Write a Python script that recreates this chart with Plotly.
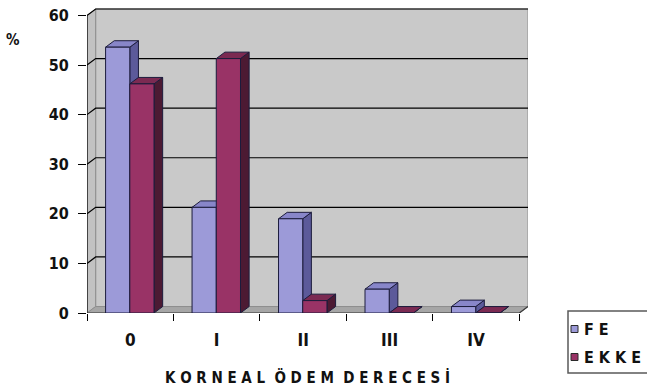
import plotly.graph_objects as go

# ---- data -------------------------------------------------------------
grades = ["0", "I", "II", "III", "IV"]
fe_pct = [53.6, 21.3, 19.0, 4.8, 1.3]
ekke_pct = [46.2, 51.3, 2.5, 0.0, 0.0]
y_ticks = [0, 10, 20, 30, 40, 50, 60]
series_names = ["FE", "EKKE"]

# ---- geometry / style -------------------------------------------------
W, H = 647, 387
ML, MR, MT, MB = 87, 119, 8, 74
PW, PH = W - ML - MR, H - MT - MB

DX, DY = 0.1, 1.3          # depth of the pseudo-3D extrusion (axis units)
YMAX = 60
Y_TOP = 61.5
BAR_W = 0.28
EDGE = "#1c1c3c"
FONT = "Liberation Sans Narrow, DejaVu Sans Condensed, Liberation Sans, Arial, sans-serif"

styles = {
    "FE": dict(front="#9c9ad8", top="#8886c9", side="#5c5a9a", offset=-0.285),
    "EKKE": dict(front="#993366", top="#7b2a52", side="#4c1a33", offset=-0.005),
}
values = {"FE": fe_pct, "EKKE": ekke_pct}


def spaced(s):
    return " ".join(s)


def px_x(px):
    return (px - ML) / PW


def px_y(py):
    return (MT + PH - py) / PH


def poly(points, fill, line_color, width=1.0, close=True):
    path = "M" + " L".join(f"{x},{y}" for x, y in points) + (" Z" if close else "")
    return dict(type="path", path=path, xref="x", yref="y",
                fillcolor=fill if close else None,
                line=dict(color=line_color, width=width), layer="below")


shapes = []
x_lo, x_hi = -0.5, len(grades) - 0.5

# walls and floor
shapes.append(poly([(x_lo + DX, DY), (x_hi + DX, DY), (x_hi + DX, YMAX + DY), (x_lo + DX, YMAX + DY)],
                   "#c9c9c9", "#8e8e8e"))
shapes.append(poly([(x_lo, 0), (x_lo + DX, DY), (x_lo + DX, YMAX + DY), (x_lo, YMAX)],
                   "#c2c2c2", "#8e8e8e"))
shapes.append(poly([(x_lo, 0), (x_hi, 0), (x_hi + DX, DY), (x_lo + DX, DY)],
                   "#a6a6a6", "#8e8e8e"))

# gridlines on the side and back walls
for v in y_ticks[1:]:
    shapes.append(poly([(x_lo, v), (x_lo + DX, v + DY), (x_hi + DX, v + DY)],
                       None, "#000000", 1.2, close=False))

# front edges of the axes
shapes.append(poly([(x_lo, 0), (x_lo, YMAX)], None, "#000000", 1.2, close=False))
shapes.append(poly([(x_lo, 0), (x_hi, 0), (x_hi + DX, DY)], None, "#3a3a3a", 1.2, close=False))

# top and side faces of every column
for name in series_names:
    st = styles[name]
    for i, v in enumerate(values[name]):
        x0 = i + st["offset"]
        x1 = x0 + BAR_W
        shapes.append(poly([(x1, 0), (x1 + DX, DY), (x1 + DX, v + DY), (x1, v)], st["side"], EDGE))
        shapes.append(poly([(x0, v), (x1, v), (x1 + DX, v + DY), (x0 + DX, v + DY)], st["top"], EDGE))

fig = go.Figure()
for name in series_names:
    st = styles[name]
    fig.add_trace(go.Bar(
        x=grades, y=values[name], name=name,
        offset=st["offset"], width=BAR_W,
        marker=dict(color=st["front"], line=dict(color=EDGE, width=1)),
        showlegend=False,
    ))

# legend box drawn by hand
lx0, lx1, ly0, ly1 = 568, 660, 311, 373
shapes.append(dict(type="rect", xref="paper", yref="paper",
                   x0=px_x(lx0), x1=px_x(lx1), y0=px_y(ly1), y1=px_y(ly0),
                   line=dict(color="#5a5a5a", width=1.5), fillcolor="white", layer="above"))
annotations = []
for k, name in enumerate(series_names):
    cy = 329 + k * 28
    shapes.append(dict(type="rect", xref="paper", yref="paper",
                       x0=px_x(571), x1=px_x(578), y0=px_y(cy + 3.5), y1=px_y(cy - 3.5),
                       line=dict(color="#2a2a2a", width=1), fillcolor=styles[name]["front"],
                       layer="above"))
    annotations.append(dict(x=px_x(582), y=px_y(cy), xref="paper", yref="paper",
                            text=spaced(name), showarrow=False, xanchor="left", yanchor="middle",
                            font=dict(family=FONT, size=16, color="#111111", weight="bold")))

annotations.append(dict(x=px_x(13), y=px_y(40), xref="paper", yref="paper", text="%",
                        showarrow=False, xanchor="center", yanchor="middle",
                        font=dict(family=FONT, size=15, color="#111111", weight="bold")))

fig.update_layout(
    width=W, height=H,
    margin=dict(l=ML, r=MR, t=MT, b=MB, pad=0),
    paper_bgcolor="white", plot_bgcolor="rgba(0,0,0,0)",
    barmode="overlay",
    shapes=shapes, annotations=annotations,
    font=dict(family=FONT, color="#111111"),
    xaxis=dict(type="category", range=[x_lo, x_hi + DX], tickson="boundaries",
               ticks="outside", ticklen=7, tickcolor="#000000", tickwidth=1.2,
               showgrid=False, showline=False, zeroline=False, automargin=False,
               tickfont=dict(family=FONT, size=17, weight="bold", color="#111111"),
               ticklabelstandoff=15,
               title=dict(text=spaced("KORNEAL ÖDEM DERECESİ").replace("   ", "  "),
                          font=dict(family=FONT, size=15, weight="bold", color="#111111"),
                          standoff=23)),
    yaxis=dict(range=[0, Y_TOP], tickvals=y_ticks, ticks="outside", ticklen=8,
               tickcolor="#000000", tickwidth=1.2, automargin=False,
               showgrid=False, showline=False, zeroline=False,
               tickfont=dict(family=FONT, size=16, weight="bold", color="#111111"),
               ticklabelstandoff=6),
)

fig.write_html("out.html")
